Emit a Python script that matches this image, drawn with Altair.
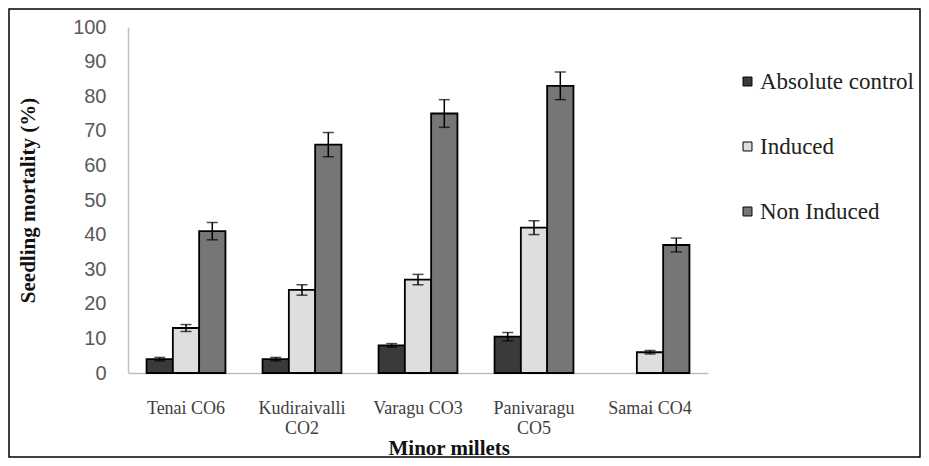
import altair as alt
import pandas as pd

categories = ["Tenai CO6", "Kudiraivalli CO2", "Varagu CO3", "Panivaragu CO5", "Samai CO4"]
series = ["Absolute control", "Induced", "Non Induced"]
absolute_control = [4, 4, 8, 10.5, 0]
induced = [13, 24, 27, 42, 6]
non_induced = [41, 66, 75, 83, 37]
err_absolute = [0.5, 0.5, 0.5, 1.2, 0]
err_induced = [1, 1.5, 1.5, 2, 0.5]
err_non = [2.5, 3.5, 4, 4, 2]
y_ticks = [0, 10, 20, 30, 40, 50, 60, 70, 80, 90, 100]
fills = ["#3a3a3a", "#dedede", "#767676"]

rows = []
for vals, errs, s in [(absolute_control, err_absolute, series[0]),
                      (induced, err_induced, series[1]),
                      (non_induced, err_non, series[2])]:
    for c, v, e in zip(categories, vals, errs):
        rows.append({"cat": c, "series": s, "value": v, "lo": v - e, "hi": v + e})
df = pd.DataFrame(rows)

W, H = 580, 346
PL, PT, PR, PB = 120, 19, 213, 85
SERIF = "Liberation Serif"

xaxis = alt.Axis(title="Minor millets", labelAngle=0, ticks=False,
                 domainColor="#bfbfbf", domainWidth=1.5,
                 labelFont=SERIF, labelFontSize=18, labelColor="#404040",
                 labelPadding=26, labelLineHeight=20,
                 labelExpr="(indexof(datum.label,'Kudiraivalli')>=0 || indexof(datum.label,'Panivaragu')>=0) ? split(datum.label,' ') : datum.label",
                 titleFont=SERIF, titleFontSize=21, titleFontWeight="bold",
                 titleColor="#111111", titleAnchor="start", titleX=260, titleY=75,
                 titleBaseline="middle")
yaxis = alt.Axis(title="Seedling mortality (%)", values=y_ticks, tickCount=11,
                 grid=False, ticks=False, domainColor="#bfbfbf", domainWidth=1.5,
                 labelFont="Liberation Sans", labelFontSize=20, labelColor="#595959",
                 labelPadding=22, labelOverlap=False,
                 titleFont=SERIF, titleFontSize=21, titleFontWeight="bold",
                 titleColor="#111111", titlePadding=34)
yscale = alt.Scale(domain=[0, 100], nice=False)
xscale = alt.Scale(paddingInner=0.32, paddingOuter=0.16)

xenc = alt.X("cat:N", sort=categories, scale=xscale, axis=xaxis)
xoff = alt.XOffset("series:N", sort=series, scale=alt.Scale(paddingInner=0, paddingOuter=0))

base = alt.Chart(df)

bars = base.transform_filter("datum.value > 0").mark_bar(stroke="black", strokeWidth=1.8).encode(
    x=xenc,
    xOffset=xoff,
    y=alt.Y("value:Q", scale=yscale, axis=yaxis),
    fill=alt.Fill("series:N", sort=series,
                  scale=alt.Scale(domain=series, range=fills),
                  legend=alt.Legend(title=None, orient="none", legendX=608, legendY=43,
                                    symbolType="square", symbolSize=80,
                                    symbolStrokeColor="black", symbolStrokeWidth=1,
                                    labelFont=SERIF, labelFontSize=23,
                                    labelColor="#222222", rowPadding=41, labelOffset=1,
                                    labelLimit=300)),
)

err = base.transform_filter("datum.hi > datum.lo")
rule = err.mark_rule(color="black", strokeWidth=1.5).encode(
    x=xenc, xOffset=xoff, y=alt.Y("lo:Q", scale=yscale, axis=yaxis), y2="hi:Q")
tick_hi = err.mark_tick(color="black", size=11, thickness=1.5).encode(
    x=xenc, xOffset=xoff, y=alt.Y("hi:Q", scale=yscale, axis=yaxis))
tick_lo = err.mark_tick(color="black", size=11, thickness=1.5).encode(
    x=xenc, xOffset=xoff, y=alt.Y("lo:Q", scale=yscale, axis=yaxis))

border = alt.Chart(alt.Data(values=[{"k": 1}])).mark_rect(
    fill=None, stroke="black", strokeWidth=1.5).encode(
    x=alt.value(-PL + 1), x2=alt.value(W + PR - 1),
    y=alt.value(-PT + 1), y2=alt.value(H + PB - 1))

chart = alt.layer(bars, rule, tick_hi, tick_lo, border).properties(
    width=W, height=H,
    padding={"left": PL, "top": PT, "right": PR, "bottom": PB},
    autosize=alt.AutoSizeParams(type="none"),
    background="white",
).configure_view(stroke=None).configure_legend(labelFont=SERIF)

chart.save("out.html", embed_options={"renderer": "svg", "actions": False})
